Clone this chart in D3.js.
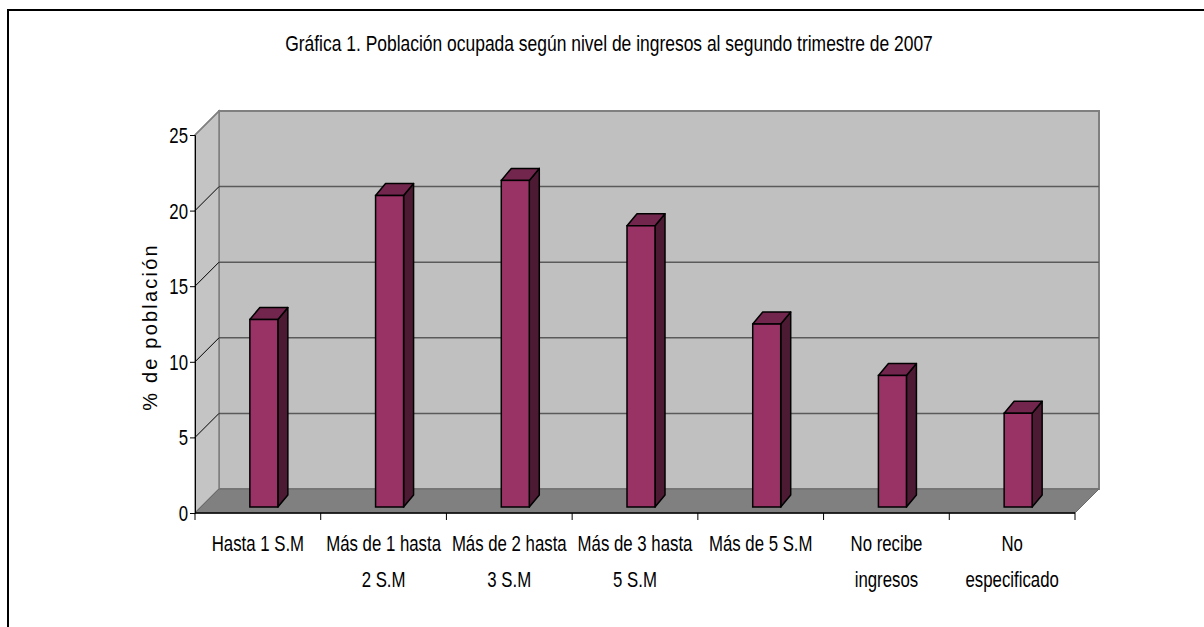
<!DOCTYPE html>
<html>
<head>
<meta charset="utf-8">
<script src="https://cdn.jsdelivr.net/npm/d3@7"></script>
<style>
  body { margin: 0; background: #fff; }
  svg { display: block; }
</style>
</head>
<body>
<svg id="chart" width="1204" height="627"></svg>
<script>
const categories = [
  ["Hasta 1 S.M"],
  ["Más de 1 hasta", "2 S.M"],
  ["Más de 2 hasta", "3 S.M"],
  ["Más de 3 hasta", "5 S.M"],
  ["Más de 5 S.M"],
  ["No recibe", "ingresos"],
  ["No", "especificado"]
];
const values = [12.4, 20.6, 21.6, 18.6, 12.1, 8.7, 6.2];
const yTicks = [0, 5, 10, 15, 20, 25];
const title = "Gráfica 1. Población ocupada según nivel de ingresos al segundo trimestre de 2007";
const yLabel = "% de población";

const svg = d3.select("#chart");
const font = "'Liberation Sans', Arial, sans-serif";
const FS = 22;
const NARROW = 0.8 * 21 / 22;

// Geometry
const x0 = 195, x1 = 1075, yTop = 135, yBot = 513;
const dX = 24, dY = -24;          // wall depth
const bX = 6, bY = -6;            // bar front-plane offset
const bdX = 10, bdY = -12;        // bar depth
const barW = 28;

const keys = categories.map((c, i) => i);
const x = d3.scaleBand().domain(keys).range([x0, x1]).padding(0);
const y = d3.scaleLinear().domain([0, 25]).range([yBot, yTop]);

// Outer border
svg.append("path")
  .attr("d", "M8,627 L8,10 L1204,10")
  .attr("fill", "none").attr("stroke", "#000").attr("stroke-width", 2);

// Title (condensed to the reference width)
const t = svg.append("text")
  .attr("text-anchor", "middle")
  .attr("font-family", font).attr("font-size", FS)
  .attr("fill", "#000")
  .text(title);
const tLen = t.node().getComputedTextLength();
t.attr("transform", `translate(609,51) scale(${648 / tLen},1)`);

// Back wall
const g = svg.append("g");
g.append("rect")
  .attr("x", x0 + dX).attr("y", yTop + dY)
  .attr("width", x1 - x0).attr("height", yBot - yTop)
  .attr("fill", "#c0c0c0").attr("stroke", "#808080").attr("stroke-width", 2);

// Left wall
g.append("polygon")
  .attr("points", [[x0, yBot], [x0, yTop], [x0 + dX, yTop + dY], [x0 + dX, yBot + dY]].map(p => p.join(",")).join(" "))
  .attr("fill", "#c4c4c4").attr("stroke", "#808080").attr("stroke-width", 1.5);

// Gridlines on back wall and diagonals on the left wall
yTicks.filter(v => v > 0 && v < 25).forEach(v => {
  g.append("line")
    .attr("x1", x0 + dX).attr("x2", x1 + dX)
    .attr("y1", y(v) + dY).attr("y2", y(v) + dY)
    .attr("stroke", "#5a5a5a").attr("stroke-width", 1.5);
});
yTicks.filter(v => v > 0 && v <= 25).forEach(v => {
  g.append("line")
    .attr("x1", x0).attr("x2", x0 + dX)
    .attr("y1", y(v)).attr("y2", y(v) + dY)
    .attr("stroke", v === 25 ? "#808080" : "#000").attr("stroke-width", v === 25 ? 1.5 : 1);
});

// Floor
g.append("polygon")
  .attr("points", [[x0, yBot], [x0 + dX, yBot + dY], [x1 + dX, yBot + dY], [x1, yBot]].map(p => p.join(",")).join(" "))
  .attr("fill", "#808080").attr("stroke", "#6a6a6a").attr("stroke-width", 1);

// Bars
const bars = g.selectAll("g.bar").data(values).join("g").attr("class", "bar");
bars.each(function(v, i) {
  const gb = d3.select(this);
  const xl = x(i) + x.bandwidth() / 2 - barW / 2 + bX;
  const xr = xl + barW;
  const yt = y(v) + bY;
  const yb = y(0) + bY;
  const pts = a => a.map(p => p.join(",")).join(" ");
  gb.append("polygon")
    .attr("points", pts([[xr, yt], [xr + bdX, yt + bdY], [xr + bdX, yb + bdY], [xr, yb]]))
    .attr("fill", "#4c1a33").attr("stroke", "#000").attr("stroke-width", 1.5).attr("stroke-linejoin", "round");
  gb.append("polygon")
    .attr("points", pts([[xl, yt], [xl + bdX, yt + bdY], [xr + bdX, yt + bdY], [xr, yt]]))
    .attr("fill", "#73264d").attr("stroke", "#000").attr("stroke-width", 1.5).attr("stroke-linejoin", "round");
  gb.append("rect")
    .attr("x", xl).attr("y", yt).attr("width", barW).attr("height", yb - yt)
    .attr("fill", "#993366").attr("stroke", "#000").attr("stroke-width", 1.5);
});

// Y axis
const yAxis = svg.append("g")
  .attr("transform", `translate(${x0},0)`)
  .call(d3.axisLeft(y).tickValues(yTicks).tickSize(5).tickPadding(2).tickFormat(d3.format("d")));
yAxis.select(".domain").attr("stroke", "#000").attr("stroke-width", 1);
yAxis.selectAll(".tick line").attr("stroke", "#000");
yAxis.selectAll(".tick text")
  .attr("font-family", font).attr("font-size", FS).attr("fill", "#000")
  .attr("x", null).attr("dy", null)
  .attr("transform", `translate(-7,0) scale(${NARROW},1) translate(0,7.5)`);

// X axis line and boundary ticks
svg.append("line")
  .attr("x1", x0).attr("x2", x1).attr("y1", yBot).attr("y2", yBot)
  .attr("stroke", "#000").attr("stroke-width", 1.5);
const bounds = keys.map(k => x(k)).concat([x1]);
svg.selectAll("line.xtick").data(bounds).join("line").attr("class", "xtick")
  .attr("x1", d => d).attr("x2", d => d)
  .attr("y1", yBot).attr("y2", yBot + 7)
  .attr("stroke", "#000").attr("stroke-width", 1);

// X labels
const lineData = [];
categories.forEach((lines, i) => lines.forEach((ln, j) => lineData.push({ i, j, ln })));
svg.selectAll("text.xlab").data(lineData).join("text").attr("class", "xlab")
  .attr("transform", d => `translate(${x(d.i) + x.bandwidth() / 2},${551 + d.j * 36}) scale(${NARROW},1)`)
  .attr("text-anchor", "middle")
  .attr("font-family", font).attr("font-size", FS).attr("fill", "#000")
  .text(d => d.ln);

// Y label
svg.append("text")
  .attr("transform", "translate(157,327) rotate(-90)")
  .attr("text-anchor", "middle")
  .attr("font-family", font).attr("font-size", 20)
  .attr("letter-spacing", 2.2)
  .attr("fill", "#000")
  .text(yLabel);
</script>
</body>
</html>
